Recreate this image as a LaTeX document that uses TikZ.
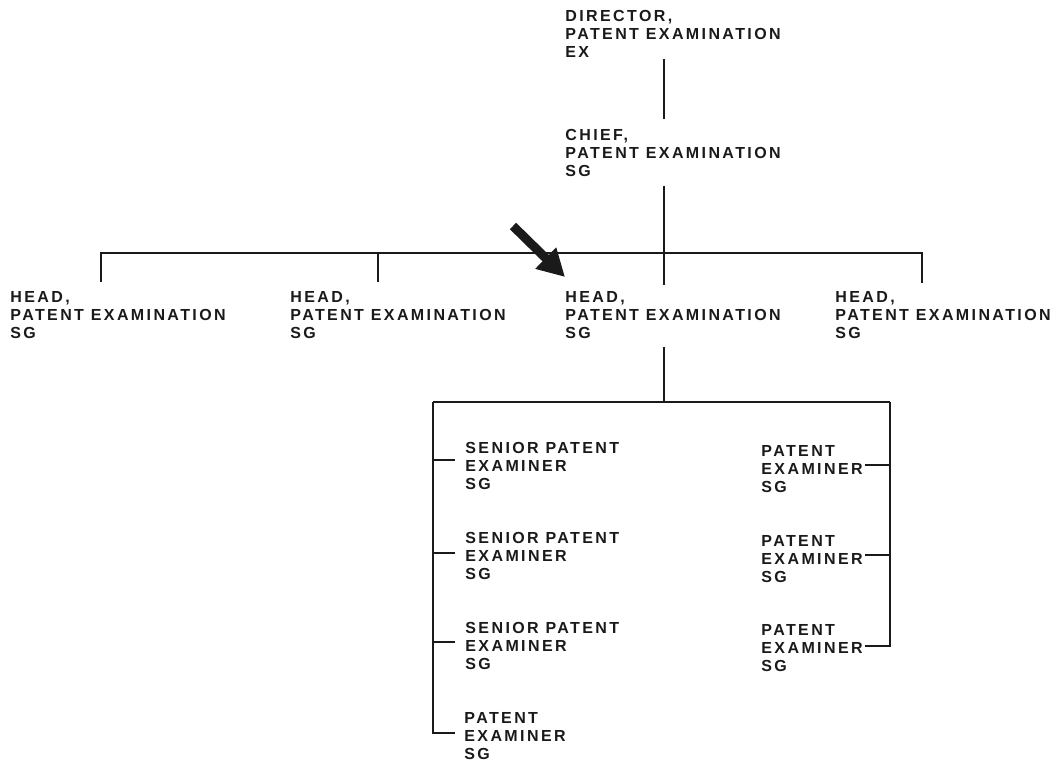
\documentclass[tikz,border=0pt]{standalone}
\usepackage{fontspec}
\setmainfont{Liberation Sans}[LetterSpace=15]
\usetikzlibrary{arrows.meta, calc}
\definecolor{InkBlack}{HTML}{1A1A1A}
\tikzset{
    post/.style={anchor=north west, inner sep=0pt, align=left, text=InkBlack, font=\fontsize{8}{8.9}\selectfont\bfseries},
    link/.style={line width=1pt, draw=InkBlack},
    pointer/.style={-{Triangle[length=13.5pt, width=14pt]}, line width=4.5pt, draw=InkBlack},
}

\begin{document}
\begin{tikzpicture}[x=0.5pt, y=-0.5pt]
\fill[white] (0,0) rectangle (1056,765);
\useasboundingbox (0,0) rectangle (1056,765);

% Top posts
\node[post] (dir) at (565,10) {DIRECTOR,\\PATENT EXAMINATION\\EX};
\node[post] (chief) at (565,129) {CHIEF,\\PATENT EXAMINATION\\SG};

% Heads
\node[post] (head1) at (10,291) {HEAD,\\PATENT EXAMINATION\\SG};
\node[post] (head2) at (290,291) {HEAD,\\PATENT EXAMINATION\\SG};
\node[post] (head3) at (565,291) {HEAD,\\PATENT EXAMINATION\\SG};
\node[post] (head4) at (835,291) {HEAD,\\PATENT EXAMINATION\\SG};

% Examiners
\node[post] (sen1) at (465,442) {SENIOR PATENT\\EXAMINER\\SG};
\node[post] (sen2) at (465,532) {SENIOR PATENT\\EXAMINER\\SG};
\node[post] (sen3) at (465,622) {SENIOR PATENT\\EXAMINER\\SG};
\node[post] (pe1) at (464,712) {PATENT\\EXAMINER\\SG};
\node[post] (pe2) at (761,445) {PATENT\\EXAMINER\\SG};
\node[post] (pe3) at (761,535) {PATENT\\EXAMINER\\SG};
\node[post] (pe4) at (761,624) {PATENT\\EXAMINER\\SG};

% Junctions
\coordinate (top_bar) at (664,253);
\coordinate (lcorner) at (433,402);
\coordinate (rcorner) at (890,402);
\coordinate (arr_tail) at (513,226);

% Upper lines
\draw[link] ($(dir.south west)+(99,1)$) -- ($(chief.north west)+(99,-10)$);
\draw[link] ($(chief.south west)+(99,9)$) -- ($(head3.north west)+(99,-6)$);
\draw[link] ($(head1.north west)+(91,-9)$) |- (top_bar) -| ($(head4.north west)+(87,-8)$);
\draw[link] ($(head2.north west)+(88,-9)$) coordinate (h2) -- (h2 |- top_bar);

% Lower lines
\draw[link] ($(head3.south west)+(99,8)$) coordinate (h3) -- (h3 |- lcorner);
\draw[link] (lcorner) -- (rcorner);
\draw[link] (lcorner) |- ($(pe1.north west)+(-9,21)$);
\draw[link] (rcorner) |- ($(pe4.north east)+(2,22)$);
\foreach \n/\dy in {sen1/18, sen2/21, sen3/20}
    \draw[link] ($(\n.north west)+(-10,\dy)$) coordinate (t) -- (t -| lcorner);
\foreach \n in {pe2, pe3}
    \draw[link] ($(\n.north east)+(2,20)$) coordinate (t) -- (t -| rcorner);

% Pointer
\draw[pointer] (arr_tail) -- ($(head3.north west)+(0,-14)$);

\end{tikzpicture}
\end{document}
